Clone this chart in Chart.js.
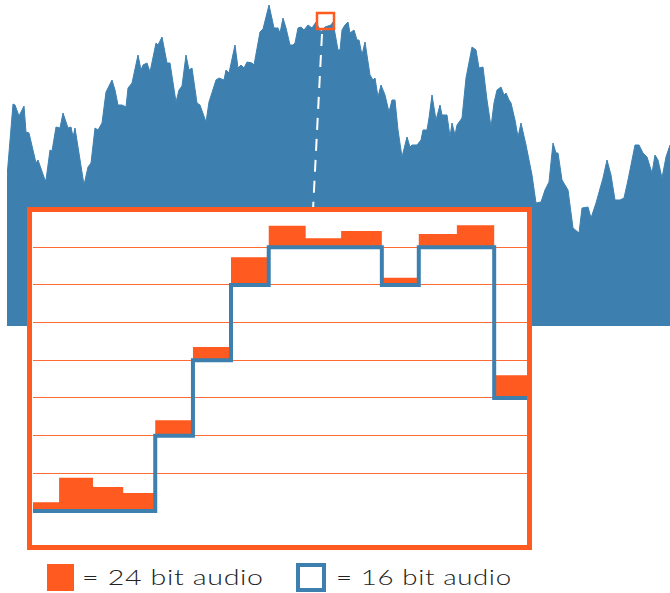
<!DOCTYPE html>
<html>
<head>
<meta charset="utf-8">
<script src="https://cdn.jsdelivr.net/npm/chart.js@4.4.1/dist/chart.umd.min.js"></script>
<style>
  body { margin: 0; background: #fff; width: 670px; height: 593px; position: relative; overflow: hidden; font-family: "Liberation Sans", Arial, sans-serif; }
  #wave { position: absolute; left: 0; top: 0; }
  #zoom { position: absolute; left: 27px; top: 207px; background: #fff; }
  .key { position: absolute; top: 564px; width: 27px; height: 27px; box-sizing: border-box; }
  .label { position: absolute; top: 566px; font-family: Lato, "Liberation Sans", sans-serif; font-weight: 300; font-size: 22px; line-height: 22px; letter-spacing: 0.5px; color: #222; white-space: nowrap; transform-origin: 0 0; }
</style>
</head>
<body>
<canvas id="wave" width="670" height="326"></canvas>
<canvas id="zoom" width="505" height="343"></canvas>
<div class="key" style="left:47px;background:#ff5a1f"></div>
<div class="label" data-w="182" style="left:82px">= 24 bit audio</div>
<div class="key" style="left:296px;top:563px;width:30px;height:29px;border:4px solid #3d80af"></div>
<div class="label" data-w="176" style="left:336px">= 16 bit audio</div>
<script>
const BLUE = '#3d80af';
const ORANGE = '#ff5a1f';

// overview waveform: sample index and level
const waveTime = [0, 6, 8, 12, 17, 19, 22, 29, 31, 38, 39, 43, 45, 49, 53, 56, 61, 64, 66, 68,
  77, 81, 84, 88, 91, 95, 99, 105, 108, 111, 115, 119, 121, 125, 131, 134, 136, 140, 143, 149,
  151, 155, 160, 163, 169, 172, 175, 179, 182, 185, 190, 193, 199, 202, 209, 212, 217, 219, 222, 228,
  231, 234, 237, 240, 245, 247, 253, 256, 262, 267, 271, 273, 276, 279, 283, 286, 288, 291, 294, 297,
  301, 305, 309, 314, 318, 324, 326, 331, 333, 335, 338, 341, 343, 347, 350, 352, 355, 358, 363, 366,
  368, 371, 374, 378, 382, 385, 388, 391, 395, 400, 403, 405, 410, 414, 416, 420, 422, 425, 429, 433,
  435, 440, 443, 445, 448, 450, 455, 459, 465, 469, 472, 476, 480, 484, 487, 490, 494, 497, 499, 502,
  504, 508, 511, 514, 519, 525, 529, 534, 538, 542, 546, 549, 551, 555, 561, 566, 572, 575, 581, 584,
  589, 596, 600, 604, 608, 613, 617, 621, 628, 632, 636, 640, 645, 648, 651, 655, 659, 663];
const waveLevel = [149, 222, 221, 210, 220, 194, 193, 163, 166, 146, 146, 176, 175, 199, 198, 213, 198, 199, 189, 198,
  141, 159, 163, 198, 196, 203, 234, 246, 236, 221, 221, 219, 238, 243, 271, 256, 261, 263, 254, 283,
  281, 289, 263, 263, 224, 236, 240, 271, 256, 258, 223, 221, 204, 224, 246, 248, 246, 256, 253, 281,
  258, 261, 258, 264, 263, 261, 294, 297, 321, 298, 298, 293, 308, 298, 281, 281, 283, 298, 299, 296,
  301, 298, 304, 294, 299, 301, 304, 276, 276, 296, 301, 304, 293, 296, 286, 286, 271, 284, 251, 246,
  248, 229, 241, 231, 214, 226, 226, 196, 169, 189, 179, 181, 181, 186, 196, 196, 208, 231, 206, 221,
  211, 211, 189, 203, 191, 201, 208, 248, 279, 276, 258, 259, 226, 199, 223, 236, 239, 231, 233, 226,
  223, 206, 189, 203, 181, 151, 123, 124, 136, 144, 183, 173, 173, 146, 136, 98, 93, 118, 119, 108,
  123, 148, 166, 151, 126, 126, 128, 146, 181, 181, 173, 169, 153, 171, 166, 148, 169, 181];

// zoomed section: start of each sample (in sample periods) and its level
const sampleStart = [0, 0.70, 1.60, 2.40, 3.25, 4.25, 5.26, 6.26, 7.24, 8.18, 9.26, 10.24, 11.25, 12.24];
const sampleEnd = 13.11;
const level24 = [0.23, 0.88, 0.64, 0.48, 2.41, 4.35, 6.73, 7.57, 7.24, 7.43, 6.19, 7.35, 7.58, 3.60];
const level16 = [0, 0, 0, 0, 2, 4, 6, 7, 7, 7, 6, 7, 7, 3];
const gridLevels = [1, 7];

// window marked on the overview and the dashed link down to the zoom box
const zoomWindow = { t0: 310, t1: 327, lo: 297, hi: 313 };
const zoomLink = { t0: 315, l0: 292, t1: 306, l1: 116 };

// stretch legend labels to the width they take in the picture
document.querySelectorAll('.label').forEach(el => {
  const s = Number(el.dataset.w) / el.offsetWidth;
  el.style.transform = 'scaleX(' + s.toFixed(3) + ')';
});

const marker = {
  id: 'marker',
  afterDatasetsDraw(chart) {
    const { ctx, scales: { x, y } } = chart;
    ctx.save();
    ctx.strokeStyle = '#fff';
    ctx.lineWidth = 2;
    ctx.setLineDash([12, 9]);
    ctx.beginPath();
    ctx.moveTo(x.getPixelForValue(zoomLink.t0), y.getPixelForValue(zoomLink.l0));
    ctx.lineTo(x.getPixelForValue(zoomLink.t1), y.getPixelForValue(zoomLink.l1));
    ctx.stroke();
    ctx.setLineDash([]);
    ctx.strokeStyle = ORANGE;
    ctx.lineWidth = 2.5;
    const left = x.getPixelForValue(zoomWindow.t0);
    const right = x.getPixelForValue(zoomWindow.t1);
    const top = y.getPixelForValue(zoomWindow.hi);
    const bottom = y.getPixelForValue(zoomWindow.lo);
    ctx.strokeRect(left, top, right - left, bottom - top);
    ctx.restore();
  }
};

new Chart(document.getElementById('wave'), {
  type: 'line',
  data: {
    datasets: [{
      data: waveTime.map((t, i) => ({ x: t, y: waveLevel[i] })),
      borderColor: BLUE,
      backgroundColor: BLUE,
      borderWidth: 1,
      pointRadius: 0,
      fill: 'origin'
    }]
  },
  options: {
    responsive: false,
    animation: false,
    events: [],
    layout: { padding: { left: 7 } },
    plugins: { legend: { display: false }, tooltip: { enabled: false } },
    scales: {
      x: { type: 'linear', display: false, min: 0, max: 663 },
      y: { display: false, min: 0, max: 326 }
    }
  },
  plugins: [marker]
});

// orange frame round the zoom box
const frame = {
  id: 'frame',
  afterDraw(chart) {
    const ctx = chart.ctx;
    ctx.save();
    ctx.strokeStyle = ORANGE;
    ctx.lineWidth = 5;
    ctx.strokeRect(2.5, 2.5, chart.width - 5, chart.height - 5);
    ctx.restore();
  }
};

const toPoints = vals => sampleStart.map((s, i) => ({ x: s, y: vals[i] }))
  .concat([{ x: sampleEnd, y: vals[vals.length - 1] }]);

new Chart(document.getElementById('zoom'), {
  type: 'line',
  data: {
    datasets: [
      {
        label: '16 bit audio',
        data: toPoints(level16),
        stepped: true,
        borderColor: BLUE,
        borderWidth: 4,
        borderJoinStyle: 'miter',
        pointRadius: 0,
        fill: false
      },
      {
        label: '24 bit audio',
        data: toPoints(level24),
        stepped: true,
        borderColor: ORANGE,
        backgroundColor: ORANGE,
        borderWidth: 0,
        pointRadius: 0,
        fill: '-1'
      }
    ]
  },
  options: {
    responsive: false,
    animation: false,
    events: [],
    layout: { padding: { left: 5.7, right: 5, top: 2.5, bottom: 1.3 } },
    plugins: { legend: { display: false }, tooltip: { enabled: false } },
    scales: {
      x: { type: 'linear', display: false, min: 0, max: sampleEnd },
      y: {
        min: -1, max: 8,
        ticks: { display: false, stepSize: 1 },
        border: { display: false },
        grid: {
          drawTicks: false,
          color: c => (c.tick && c.tick.value >= gridLevels[0] && c.tick.value <= gridLevels[1]) ? '#ff6a35' : 'rgba(0,0,0,0)'
        }
      }
    }
  },
  plugins: [frame]
});
</script>
</body>
</html>
